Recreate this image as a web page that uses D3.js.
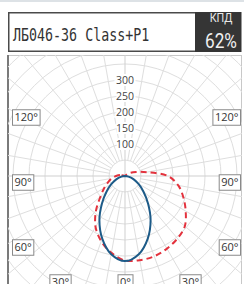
<!DOCTYPE html>
<html><head><meta charset="utf-8">
<script src="https://cdn.jsdelivr.net/npm/d3@7"></script>
<style>html,body{margin:0;padding:0;background:#fff;}svg{display:block;}</style>
</head><body>
<script>
// ---- data ----
const title = "ЛБ046-36 Class+P1";
const kpdLabel = "КПД";
const kpdValue = "62%";
const ringTicks = [100, 150, 200, 250, 300];
const angleLabels = [-120, -90, -60, -30, 0, 30, 60, 90, 120];
// C0-180 plane (solid blue), angle from nadir in degrees, intensity cd
const blueAngles = [-90, -80, -70, -60, -50, -40, -30, -20, -10, 0, 10, 20, 30, 40, 50, 60, 70, 80, 90];
const blueValues = [0, 11, 28, 48, 75, 112, 160, 208, 248, 266, 248, 208, 160, 112, 75, 48, 28, 11, 0];
// C90-270 plane (dashed red)
const redAngles = [-110, -100, -90, -80, -70, -60, -50, -40, -30, -20, -10, 0, 10, 20, 30, 40, 50, 60, 70, 80, 90, 100, 110, 120, 130, 140];
const redValues = [0, 16, 28, 42, 56, 75, 100, 141, 184, 217, 244, 264, 267, 267, 262, 255, 244, 219, 194, 169, 134, 69, 37, 19, 6, 0];

const W = 244, H = 284;
const cx = 125, cy = 176;
const frame = {x: 8, y: 55, w: 234, h: 250};

const svg = d3.select("body").append("svg").attr("width", W).attr("height", H);

// top band
svg.append("rect").attr("x", 0).attr("y", 0).attr("width", W).attr("height", 2).attr("fill", "#dde2e6");

// header
svg.append("rect").attr("x", 8.75).attr("y", 12.75).attr("width", 187).attr("height", 38.5)
  .attr("fill", "#fff").attr("stroke", "#4a4a4a").attr("stroke-width", 1.5);
svg.append("rect").attr("x", 195).attr("y", 12).attr("width", 46.5).attr("height", 40).attr("fill", "#353535");
svg.append("text").attr("transform", "translate(13,41) scale(0.72,1)")
  .attr("font-family", "DejaVu Sans Mono").attr("font-size", 18.5).attr("fill", "#333").text(title);
svg.append("text").attr("transform", "translate(221,22) scale(0.9,1)").attr("text-anchor", "middle")
  .attr("font-family", "Roboto").attr("font-size", 12).attr("fill", "#e8e8e8").text(kpdLabel);
svg.append("text").attr("transform", "translate(221,47.5) scale(0.82,1)").attr("text-anchor", "middle")
  .attr("font-family", "Roboto").attr("font-size", 21).attr("fill", "#f0f0f0").text(kpdValue);

// frame
svg.append("defs").append("clipPath").attr("id", "clip").append("rect")
  .attr("x", frame.x).attr("y", frame.y).attr("width", frame.w).attr("height", frame.h);
svg.append("rect").attr("x", frame.x + 0.5).attr("y", frame.y + 0.5).attr("width", frame.w - 1).attr("height", frame.h)
  .attr("fill", "#fff").attr("stroke", "#c8c8c8").attr("stroke-width", 1);
svg.append("line").attr("x1", frame.x).attr("x2", frame.x).attr("y1", frame.y).attr("y2", H)
  .attr("stroke", "#7a7a7a").attr("stroke-width", 2);

const r = d3.scaleLinear().domain([0, 300]).range([0, 96]);
const toA = deg => Math.PI - deg * Math.PI / 180;

const g = svg.append("g").attr("clip-path", "url(#clip)");
const grid = g.append("g").attr("transform", `translate(${cx},${cy})`);
const ringVals = d3.range(50, 650, 50);
grid.selectAll("circle").data(ringVals).join("circle")
  .attr("r", d => r(d)).attr("fill", "none").attr("stroke", "#dedede").attr("stroke-width", 1);
const spokes = d3.range(0, 360, 10);
grid.selectAll("line.sp").data(spokes).join("line").attr("class", "sp")
  .attr("x1", d => (d % 90 === 0 ? 0 : r(50)) * Math.sin(d * Math.PI / 180))
  .attr("y1", d => (d % 90 === 0 ? 0 : r(50)) * Math.cos(d * Math.PI / 180))
  .attr("x2", d => r(700) * Math.sin(d * Math.PI / 180))
  .attr("y2", d => r(700) * Math.cos(d * Math.PI / 180))
  .attr("stroke", d => d % 90 === 0 ? "#cfcfcf" : "#dedede").attr("stroke-width", 1);

// curves
const curves = g.append("g").attr("transform", `translate(${cx},${cy})`);
const radial = d3.lineRadial().curve(d3.curveCatmullRomClosed.alpha(0.5));
curves.append("path")
  .attr("d", radial(redAngles.map((a, i) => [toA(a), r(redValues[i])])))
  .attr("fill", "none").attr("stroke", "#e3323d").attr("stroke-width", 2).attr("stroke-dasharray", "6,4");
curves.append("path")
  .attr("d", radial(blueAngles.map((a, i) => [toA(a), r(blueValues[i])])))
  .attr("fill", "none").attr("stroke", "#1d5b88").attr("stroke-width", 2);

// ring labels
svg.append("g").selectAll("text").data(ringTicks).join("text")
  .attr("x", cx).attr("y", d => cy - r(d) + 3.8).attr("text-anchor", "middle")
  .attr("font-family", "Open Sans").attr("font-size", 10.5).attr("fill", "#444")
  .attr("stroke", "#fff").attr("stroke-width", 4).attr("paint-order", "stroke")
  .text(d => d);

// angle labels
const R = 130, k = 6;
const lab = svg.append("g");
angleLabels.forEach(a => {
  const txt = Math.abs(a) + "°";
  const t = lab.append("text").attr("font-family", "Open Sans").attr("font-size", 11).attr("fill", "#333").text(txt);
  const bw = t.node().getComputedTextLength() + 4, bh = 15.5;
  let px = cx + R * Math.sin(a * Math.PI / 180);
  let py = cy + R * Math.cos(a * Math.PI / 180) + k;
  let x0 = px - bw / 2;
  x0 = Math.max(12, Math.min(240 - bw, x0));
  let yc = Math.min(282, py);
  const y0 = yc - bh / 2;
  lab.insert("rect", "text").attr("x", x0 + 0.5).attr("y", y0 + 0.5).attr("width", bw).attr("height", bh)
    .attr("fill", "#fff").attr("stroke", "#8a8a8a").attr("stroke-width", 1);
  t.attr("x", x0 + 0.5 + bw / 2).attr("y", yc + 4.3).attr("text-anchor", "middle");
});
</script>
</body></html>
